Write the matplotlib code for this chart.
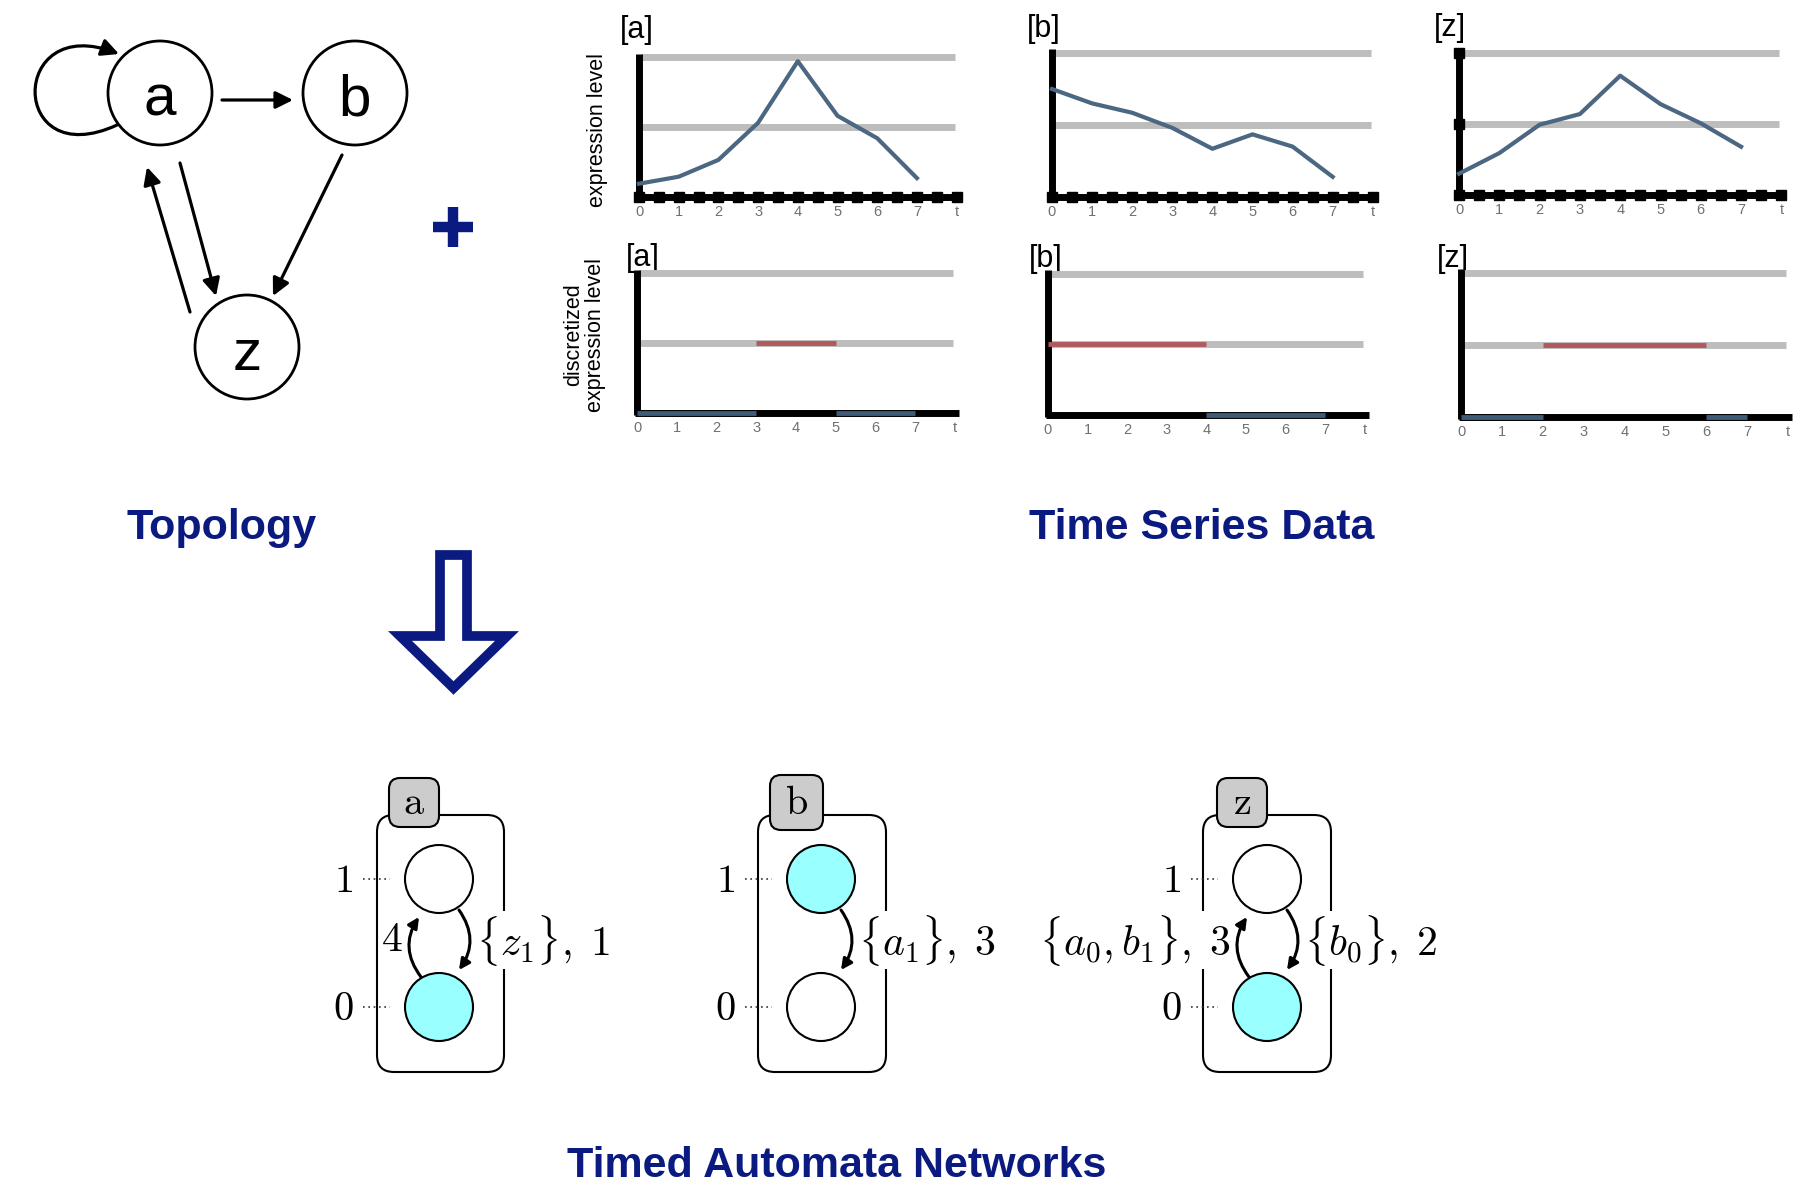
import matplotlib

matplotlib.use("Agg")
import matplotlib.pyplot as plt
import numpy as np
from matplotlib.patches import Circle, FancyArrowPatch, FancyBboxPatch, Polygon
from matplotlib.path import Path

plt.rcParams["font.family"] = ["Liberation Sans", "DejaVu Sans"]
plt.rcParams["mathtext.fontset"] = "cm"

W, H = 1813, 1188
NAVY = "#0a1a80"
CURVE = "#4b6781"
GREY = "#bdbdbd"
RED = "#b05a5c"
BLUE = "#3f5b78"
CYAN = "#99ffff"

# ---- data -------------------------------------------------------------
genes = ["a", "b", "z"]
edges = [("a", "a"), ("a", "b"), ("b", "z"), ("a", "z"), ("z", "a")]

t_steps = [0, 1, 2, 3, 4, 5, 6, 7]
tick_labels = ["0", "1", "2", "3", "4", "5", "6", "7", "t"]
# expression level in threshold units (1 = middle grey line, 2 = top line)
expr_a = [0.19, 0.29, 0.53, 1.06, 1.94, 1.16, 0.84, 0.27]
expr_b = [1.50, 1.30, 1.17, 0.96, 0.67, 0.87, 0.70, 0.28]
expr_z = [0.30, 0.59, 0.99, 1.14, 1.68, 1.28, 1.01, 0.68]
# discretized level on each interval [t, t+1]
disc_a = [0, 0, 0, 1, 1, 0, 0]
disc_b = [1, 1, 1, 1, 0, 0, 0]
disc_z = [0, 0, 1, 1, 1, 1, 0]

initial_level = {"a": 0, "b": 1, "z": 0}
# (gene, from level, to level, label)
transitions = [
    ("a", 0, 1, r"$4$"),
    ("a", 1, 0, r"$\{z_1\},\;1$"),
    ("b", 1, 0, r"$\{a_1\},\;3$"),
    ("z", 0, 1, r"$\{a_0, b_1\},\;3$"),
    ("z", 1, 0, r"$\{b_0\},\;2$"),
]

# ---- layout (pixels) ----------------------------------------------------
node_pos = {"a": (160, 93), "b": (355, 93), "z": (247, 347)}
node_r = 52
edge_ends = {
    ("a", "b"): ((222, 100), (293, 100)),
    ("b", "z"): ((342, 155), (273, 296)),
    ("a", "z"): ((180, 163), (216, 296)),
    ("z", "a"): ((190, 312), (147, 167)),
}
top_panels = {"a": (639, 197, 39.7, 70), "b": (1052, 197, 40.1, 72), "z": (1459, 195, 40.3, 71)}
bot_panels = {"a": (637, 413, 39.7, 70), "b": (1048, 415, 39.6, 70.5), "z": (1461, 417, 40.9, 72)}
top_titles = {"a": (620, 30), "b": (1027, 29), "z": (1434, 28)}
bot_titles = {"a": (626, 258), "b": (1029, 259), "z": (1437, 259)}

auto_box = {"a": (377, 815, 127, 257), "b": (758, 815, 128, 257), "z": (1203, 815, 128, 257)}
auto_tab = {"a": (389, 778, 50, 49), "b": (770, 775, 53, 55), "z": (1217, 778, 50, 49)}
auto_cx = {"a": 439, "b": 821, "z": 1267}
level_y = {1: 879, 0: 1007}
state_r = 34

fig = plt.figure(figsize=(W / 100, H / 100), dpi=100)
ax = fig.add_axes([0, 0, 1, 1])
ax.set_xlim(0, W)
ax.set_ylim(H, 0)
ax.axis("off")

# ---- topology -------------------------------------------------------------
for g in genes:
    x, y = node_pos[g]
    ax.add_patch(Circle((x, y), node_r, fc="white", ec="black", lw=2, zorder=3))
    ax.text(x, y + 23, g, fontsize=42, ha="center", va="baseline", zorder=4)

for src, dst in edges:
    if src == dst:
        x, y = node_pos[src]
        loop = Path([(x - 43, y + 32), (x - 152, y + 82), (x - 152, y - 82), (x - 41, y - 39)],
                    [Path.MOVETO, Path.CURVE4, Path.CURVE4, Path.CURVE4])
        arr = FancyArrowPatch(path=loop, arrowstyle="-|>", mutation_scale=26, lw=2.3,
                              color="black", zorder=2)
    else:
        p0, p1 = edge_ends[(src, dst)]
        arr = FancyArrowPatch(p0, p1, arrowstyle="-|>", mutation_scale=26, lw=2.3,
                              color="black", shrinkA=0, shrinkB=0, zorder=2)
    ax.add_patch(arr)

# plus sign
ax.plot([433, 473], [227, 227], color=NAVY, lw=7.5, solid_capstyle="butt")
ax.plot([453, 453], [207, 247], color=NAVY, lw=7.5, solid_capstyle="butt")

# section titles
title_kw = dict(fontsize=31, fontweight="bold", color=NAVY, ha="center", va="center")
ax.text(222, 528, "Topology", **title_kw)
ax.text(1202, 528, "Time Series Data", **title_kw)
ax.text(837, 1166, "Timed Automata Networks", **title_kw)

# hollow down arrow
ax.add_patch(Polygon([(440, 555), (467, 555), (467, 636), (507, 636), (453.5, 688),
                      (400, 636), (440, 636)], closed=True, fill=False, ec=NAVY,
                     lw=7, joinstyle="miter"))


# ---- time series panels ---------------------------------------------------
def make_panel(x0, ybase, dx, unit):
    p = fig.add_axes([x0 / W, 1 - ybase / H, 8 * dx / W, 2 * unit / H])
    p.set_xlim(0, 8)
    p.set_ylim(0, 2)
    p.patch.set_alpha(0)
    for s in p.spines.values():
        s.set_visible(False)
    p.set_yticks([])
    p.set_xticks(range(9))
    p.set_xticklabels(tick_labels, color="#707070", fontsize=10.5)
    p.tick_params(axis="x", length=0, pad=6)
    for lvl in (1, 2):
        p.plot([0.05, 7.95], [lvl, lvl], color=GREY, lw=5, solid_capstyle="butt",
               clip_on=False, zorder=1)
    p.plot([0, 0], [-0.03, 2.05], color="black", lw=5, solid_capstyle="butt",
           clip_on=False, zorder=2)
    p.plot([-0.06, 8.1], [0, 0], color="black", lw=5, solid_capstyle="butt",
           clip_on=False, zorder=2)
    return p


series = {"a": expr_a, "b": expr_b, "z": expr_z}
discrete = {"a": disc_a, "b": disc_b, "z": disc_z}

for g in genes:
    p = make_panel(*top_panels[g])
    marks = np.arange(0, 8.01, 0.5)
    p.plot(marks, np.zeros_like(marks), "s", color="black", ms=7.5, clip_on=False, zorder=2)
    if g == "z":
        p.plot([0, 0], [1, 2], "s", color="black", ms=7.5, clip_on=False, zorder=2)
    p.plot(t_steps, series[g], color=CURVE, lw=3, clip_on=False, zorder=3)
    ax.text(*top_titles[g], f"[{g}]", fontsize=22, ha="left", va="center")

    q = make_panel(*bot_panels[g])
    lv = discrete[g]
    start = 0
    for i in range(1, len(lv) + 1):
        if i == len(lv) or lv[i] != lv[start]:
            q.plot([start, i], [lv[start], lv[start]], color=RED if lv[start] else BLUE,
                   lw=3.5, solid_capstyle="butt", clip_on=False, zorder=3)
            start = i
    ax.text(*bot_titles[g], f"[{g}]", fontsize=22, ha="left", va="center")

ax.text(597, 130, "expression level", fontsize=15.5, rotation=90, ha="center", va="center")
ax.text(585, 335, "discretized\nexpression level", fontsize=15.5, rotation=90,
        ha="center", va="center", linespacing=1.05)

# ---- timed automata -------------------------------------------------------
for g in genes:
    bx, by, bw, bh = auto_box[g]
    ax.add_patch(FancyBboxPatch((bx, by), bw, bh, boxstyle="round,pad=0,rounding_size=17",
                                fc="none", ec="black", lw=1.5, zorder=1))
    tx, ty, tw, th = auto_tab[g]
    ax.add_patch(FancyBboxPatch((tx, ty), tw, th, boxstyle="round,pad=0,rounding_size=11",
                                fc="#cccccc", ec="black", lw=1.5, zorder=2))
    ax.text(tx + tw / 2, ty + th / 2, rf"$\mathrm{{{g}}}$", fontsize=29,
            ha="center", va="center", zorder=3)
    cx = auto_cx[g]
    for lvl, y in level_y.items():
        fc = CYAN if lvl == initial_level[g] else "white"
        ax.add_patch(Circle((cx, y), state_r, fc=fc, ec="black", lw=1.5, zorder=5))
        ax.text(cx - 96, y + 2, rf"${lvl}$", fontsize=29, ha="center", va="center")
        ax.plot([cx - 76, cx - 49], [y, y], color="#333333", lw=1.2,
                linestyle=(0, (1, 2.2)))

for g, lo, hi, label in transitions:
    cx = auto_cx[g]
    if hi > lo:   # going up, drawn on the left side
        p0, p1 = (cx - 18, level_y[lo] - 30), (cx - 20, level_y[hi] + 38)
        ax.text(cx - 36, 940, label, fontsize=30, ha="right", va="center", zorder=3,
                bbox=dict(fc="white", ec="none", pad=1))
    else:         # going down, drawn on the right side
        p0, p1 = (cx + 20, level_y[lo] + 31), (cx + 20, level_y[hi] - 37)
        ax.text(cx + 37, 940, label, fontsize=30, ha="left", va="center", zorder=3,
                bbox=dict(fc="white", ec="none", pad=1))
    ax.add_patch(FancyArrowPatch(p0, p1, arrowstyle="-|>", mutation_scale=16, lw=2.2,
                                 color="black", shrinkA=0, shrinkB=0,
                                 connectionstyle="arc3,rad=-0.35", zorder=4))

fig.savefig("out.png", dpi=100)
